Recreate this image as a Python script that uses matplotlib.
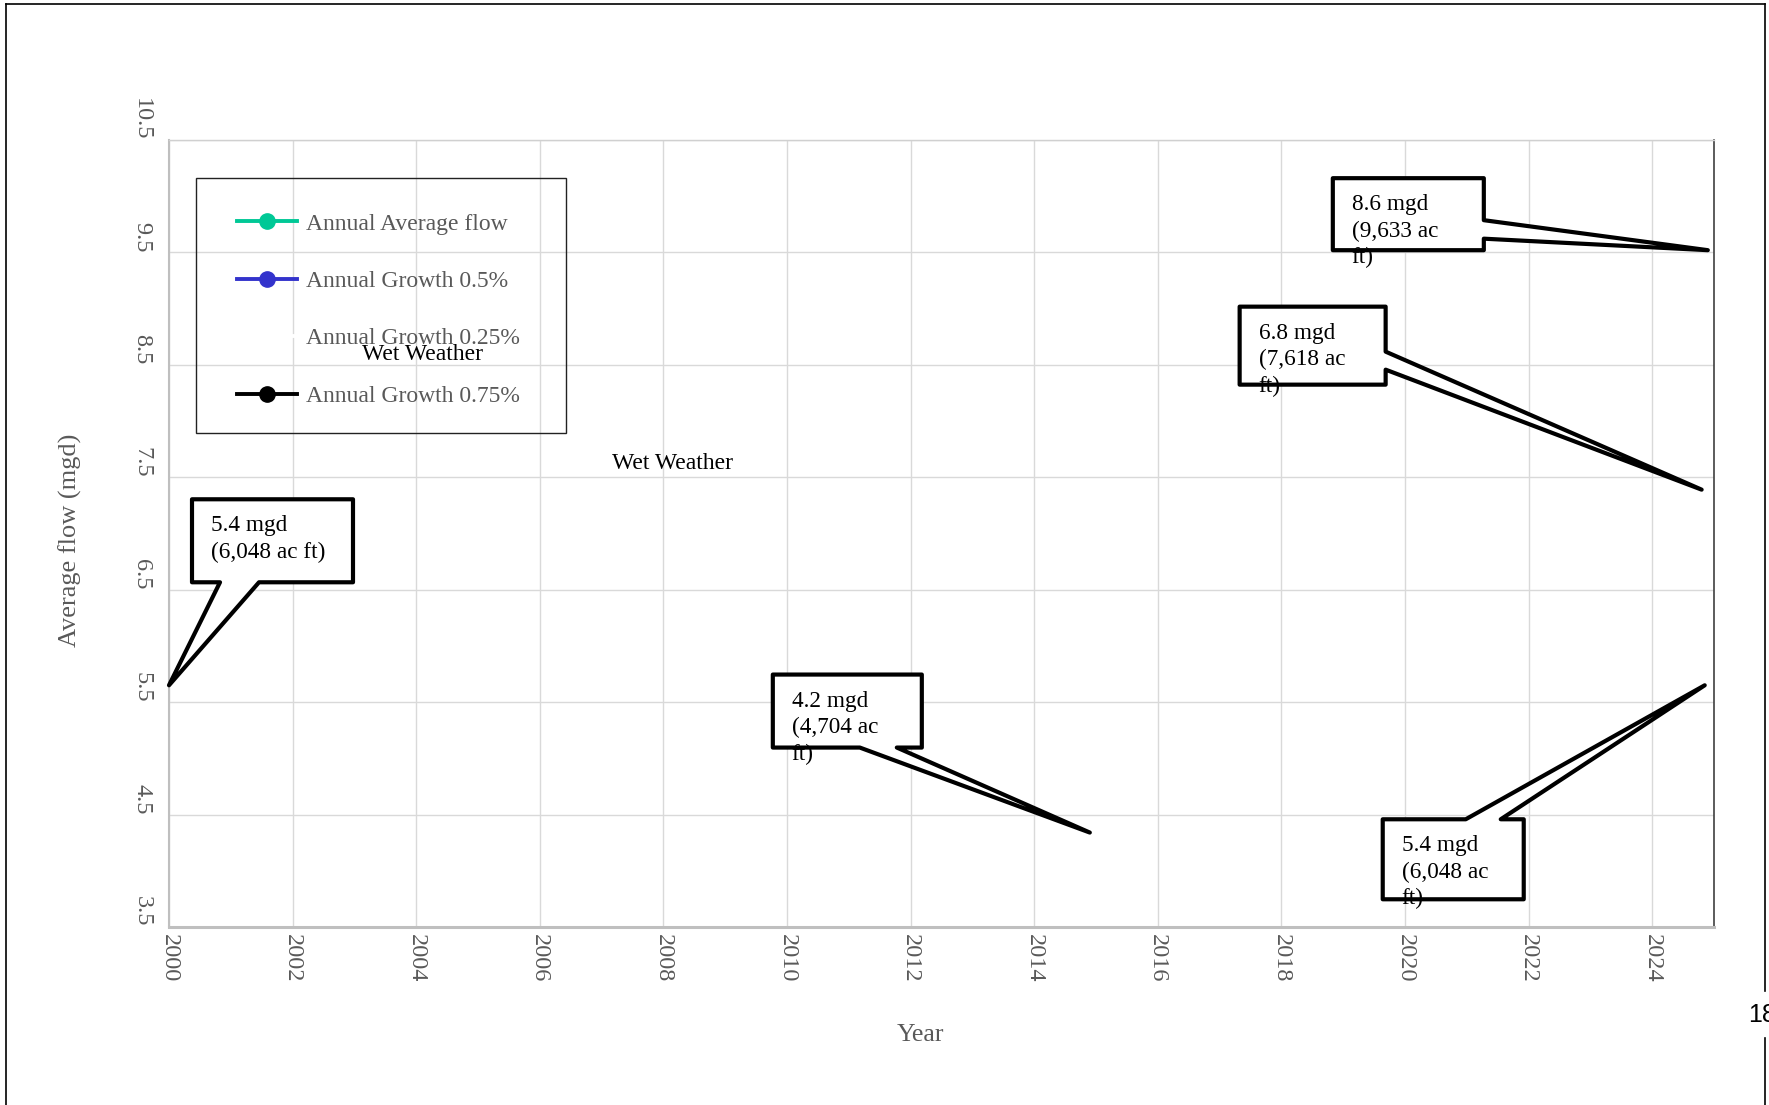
import matplotlib
matplotlib.use("Agg")
import matplotlib.pyplot as plt
import matplotlib.transforms as mtransforms
from matplotlib.lines import Line2D
from matplotlib.patches import Polygon, Rectangle

# ---------------- data ----------------
series_labels = ["Annual Average flow", "Annual Growth 0.5%",
                 "Annual Growth 0.25%", "Annual Growth 0.75%"]
series_colors = ["#00c896", "#3333cc", "#ffffff", "#000000"]

callout_years = [2000.0, 2014.9, 2024.9, 2024.8, 2024.85]
callout_values = [5.65, 4.34, 9.52, 7.39, 5.65]
callout_labels = ["5.4 mgd\n(6,048 ac ft)",
                  "4.2 mgd\n(4,704 ac\nft)",
                  "8.6 mgd\n(9,633 ac\nft)",
                  "6.8 mgd\n(7,618 ac\nft)",
                  "5.4 mgd\n(6,048 ac\nft)"]

wet_years = [2004.11, 2008.14]
wet_values = [8.59, 7.62]
wet_labels = ["Wet Weather", "Wet Weather"]

x_ticks = list(range(2000, 2025, 2))
y_ticks = [3.5, 4.5, 5.5, 6.5, 7.5, 8.5, 9.5, 10.5]
y_tick_labels = ["3.5", "4.5", "5.5", "6.5", "7.5", "8.5", "9.5", "10.5"]

# ---------------- layout (pixel offsets from the pointer tip, y up) ----------------
# (left, right, bottom, top, side, base_a, base_b)
callout_shapes = [
    (23, 184, 103, 186, "bottom", 51, 90),
    (-317, -168, 85, 158, "bottom", -230, -193),
    (-375, -224, 0, 72, "right", 30, 11.5),
    (-462, -316, 105, 183, "right", 138, 120),
    (-322, -181, -214, -134, "top", -239, -204),
]

SERIF = "Liberation Serif"
GREY = "#595959"
W, H = 1769, 1105

fig = plt.figure(figsize=(W / 100, H / 100), dpi=100)
fig.patch.set_facecolor("white")
ax = fig.add_axes([169 / W, (H - 927) / H, 1545 / W, 787 / H])

ax.set_xlim(2000, 2025)
ax.set_ylim(3.5, 10.5)
ax.set_xticks(x_ticks)
ax.set_xticklabels([str(v) for v in x_ticks])
ax.set_yticks(y_ticks)
ax.set_yticklabels(y_tick_labels)
ax.grid(True, color="#d9d9d9", lw=1.0)
ax.set_axisbelow(True)
ax.tick_params(length=0, labelsize=17.5, labelcolor=GREY)
ax.tick_params(axis="x", pad=5)
ax.tick_params(axis="y", pad=12)
for lab in ax.get_xticklabels():
    lab.set_rotation(-90)
    lab.set_fontfamily(SERIF)
    lab.set_ha("center")
    lab.set_va("top")
for lab in ax.get_yticklabels():
    lab.set_rotation(-90)
    lab.set_fontfamily(SERIF)
    lab.set_va("bottom")
    lab.set_ha("right")

ax.spines["left"].set_color("#bfbfbf")
ax.spines["left"].set_linewidth(1.5)
ax.spines["bottom"].set_color("#bfbfbf")
ax.spines["bottom"].set_linewidth(2.2)
ax.spines["top"].set_color("#d0d0d0")
ax.spines["top"].set_linewidth(1.0)
ax.spines["right"].set_color("#404040")
ax.spines["right"].set_linewidth(1.2)

ax.set_ylabel("Average flow (mgd)", fontsize=19, color=GREY, family=SERIF, va="center")
ax.yaxis.set_label_coords((70 - 169) / 1545, 0.4914)
ax.set_xlabel("Year", fontsize=18.5, color=GREY, family=SERIF, va="center")
ax.xaxis.set_label_coords(0.4865, (927 - 1035) / 787)

# legend
handles = [Line2D([], [], color=c, lw=2.8, marker="o", ms=11) for c in series_colors]
leg = ax.legend(handles, series_labels, loc="upper left",
                bbox_to_anchor=((237 - 169) / 1545, (927 - 213) / 787),
                frameon=False, borderpad=0, borderaxespad=0,
                handlelength=2.54, handletextpad=0.38, labelspacing=1.52,
                prop={"family": SERIF, "size": 17})
for t in leg.get_texts():
    t.set_color(GREY)
ax.add_patch(Rectangle(((196 - 169) / 1545, (927 - 433) / 787), 370 / 1545, 255 / 787,
                       transform=ax.transAxes, fill=False, ec="#222222", lw=1.0,
                       clip_on=False, zorder=4))

# wet weather labels
for x, y, s in zip(wet_years, wet_values, wet_labels):
    ax.text(x, y, s, ha="center", va="center", fontsize=17, family=SERIF,
            color="black", zorder=6)

# callouts
for x, y, s, shp in zip(callout_years, callout_values, callout_labels, callout_shapes):
    l, r, b, t, side, a, bb = shp
    if side == "bottom":
        pts = [(l, b), (a, b), (0, 0), (bb, b), (r, b), (r, t), (l, t)]
    elif side == "top":
        pts = [(l, t), (a, t), (0, 0), (bb, t), (r, t), (r, b), (l, b)]
    else:
        pts = [(l, t), (r, t), (r, a), (0, 0), (r, bb), (r, b), (l, b)]
    pts = [(px / 100, py / 100) for px, py in pts]
    trans = fig.dpi_scale_trans + mtransforms.ScaledTranslation(x, y, ax.transData)
    ax.add_patch(Polygon(pts, closed=True, transform=trans, fc="white", ec="black",
                         lw=3.0, joinstyle="round", clip_on=False, zorder=7))
    ax.text((l + 19) / 100, (t - 16) / 100, s, transform=trans, ha="left", va="top",
            fontsize=16.75, linespacing=1.33, family=SERIF, color="black",
            zorder=8, clip_on=False)

# outer page border
top_y = (H - 4) / H
left_x = 6 / W
right_x = 1765 / W
for xs, ys in [([left_x, right_x], [top_y, top_y]),
               ([left_x, left_x], [top_y, 0]),
               ([right_x, right_x], [top_y, (H - 991) / H]),
               ([right_x, right_x], [(H - 1038) / H, 0])]:
    fig.add_artist(Line2D(xs, ys, transform=fig.transFigure, color="black", lw=1.2))
fig.text(1748 / W, (H - 1015) / H, "18", fontsize=18, family="Liberation Sans",
         ha="left", va="center", color="black")

fig.savefig("out.png", dpi=100)
